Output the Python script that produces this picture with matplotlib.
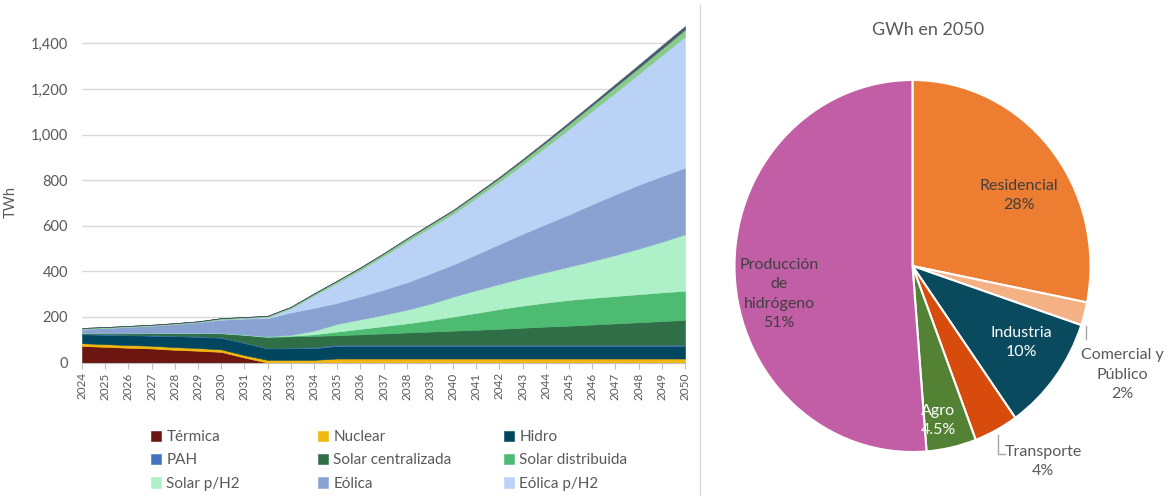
import matplotlib
matplotlib.use("Agg")
import matplotlib.pyplot as plt
from matplotlib.lines import Line2D
from matplotlib.ticker import FuncFormatter

plt.rcParams['font.family'] = ['Lato', 'DejaVu Sans']

# generation by source, TWh
years = list(range(2024, 2051))
termica = [73, 69, 65, 62, 56, 52, 47, 22] + [0] * 19
nuclear = [12, 12, 12, 12, 12, 12, 11, 11, 12, 12, 12] + [18] * 16
hidro = [39, 41, 43, 44, 48, 49, 51, 53, 50, 51, 51] + [55] * 16
pah = [2] * 9 + [3, 4] + [5] * 16
solar_cent = [2, 4, 6, 9, 12, 15, 17, 33, 48, 49, 50, 42, 46, 50, 54, 58, 62, 66,
              70, 75, 80, 84, 89, 94, 99, 104, 109]
solar_dist = [1, 1, 1, 1, 1, 1, 2, 2, 2, 3, 7, 16, 24, 32, 40, 50, 62, 74,
              87, 97, 105, 113, 117, 120, 123, 126, 128]
solar_h2 = [0, 0, 0, 0, 0, 0, 0, 0, 1, 4, 16, 34, 42, 50, 60, 72, 87, 100,
            110, 122, 134, 146, 162, 180, 200, 222, 248]
eolica = [19, 23, 28, 32, 38, 46, 58, 70, 80, 98, 100, 92, 100, 110, 120, 132, 141, 157,
          175, 193, 211, 229, 249, 266, 280, 288, 292]
eolica_h2 = [0, 0, 0, 0, 0, 0, 2, 3, 5, 18, 55, 88, 116, 147, 179, 202, 223, 248,
             274, 304, 338, 375, 410, 447, 486, 530, 575]
otros = [4, 4, 4, 4, 4, 4, 5, 4, 5, 6, 7, 9, 10, 11, 12, 13, 14, 15,
         16, 18, 20, 22, 24, 26, 27, 29, 31]
otros2 = [0] * 9 + [1, 2, 1, 2, 2, 2, 3, 3, 4, 5, 6, 7, 8, 9, 11, 13, 14, 15]

series = [termica, nuclear, hidro, pah, solar_cent, solar_dist, solar_h2, eolica, eolica_h2, otros, otros2]
names = ['Térmica', 'Nuclear', 'Hidro', 'PAH', 'Solar centralizada', 'Solar distribuida',
         'Solar p/H2', 'Eólica', 'Eólica p/H2']
colors = ['#6B1610', '#F2B80F', '#00465E', '#4472C4', '#2F6E47', '#4DBB72',
          '#AEF0C8', '#8AA2D2', '#BAD2F5', '#88CC8C', '#4A5A6E']

# demand 2050 pie
pie_vals = [28, 2, 10, 4, 4.5, 51]
pie_names = ['Residencial', 'Comercial y\nPúblico', 'Industria', 'Transporte', 'Agro',
             'Producción\nde\nhidrógeno']
pie_pcts = ['28%', '2%', '10%', '4%', '4.5%', '51%']
pie_colors = ['#ED7D31', '#F4B183', '#0A4A5E', '#D74B0D', '#548235', '#C25EA6']

grey = '#595959'
fig = plt.figure(figsize=(11.68, 5), dpi=100)

# ---- stacked area
ax = fig.add_axes([82 / 1168, 137.4 / 500, 603 / 1168, 342 / 500])
polys = ax.stackplot(years, *series, colors=colors, edgecolor='face', linewidth=0.4)
ax.set_xlim(2024, 2050)
ax.set_ylim(0, 1500)
ax.set_yticks(range(0, 1401, 200))
ax.yaxis.set_major_formatter(FuncFormatter(lambda v, p: f"{v:,.0f}"))
ax.set_xticks(years)
ax.set_xticklabels([str(y) for y in years], rotation=90)
ax.tick_params(axis='y', length=0, labelsize=10.5, labelcolor=grey, pad=10)
ax.tick_params(axis='x', length=4, color='#BFBFBF', labelsize=8.5, labelcolor=grey, pad=3)
ax.grid(axis='y', color='#D9D9D9', linewidth=1)
ax.set_axisbelow(True)
for s in ['top', 'right', 'left']:
    ax.spines[s].set_visible(False)
ax.spines['bottom'].set_color('#BFBFBF')
ax.set_ylabel('TWh', color=grey, fontsize=10.5)
ax.yaxis.set_label_coords(-0.106, 0.47)

# legend, row-wise in three columns
col_x = [151, 318, 504]
for c in range(3):
    idx = [c, c + 3, c + 6]
    fig.legend([polys[i] for i in idx], [names[i] for i in idx], loc='upper left',
               bbox_to_anchor=(col_x[c] / 1168, 1 - 430 / 500), frameon=False,
               fontsize=11, handlelength=0.65, handleheight=0.65, handletextpad=0.35,
               labelspacing=0.62, borderpad=0, borderaxespad=0, labelcolor=grey)

# separator
fig.add_artist(Line2D([700 / 1168] * 2, [0.01, 0.99], color='#D9D9D9', linewidth=1,
                      transform=fig.transFigure))

# ---- pie
pax = fig.add_axes([(912.5 - 178) / 1168, (500 - 266 - 186) / 500, 356 / 1168, 372 / 500])
pax.pie(pie_vals, colors=pie_colors, startangle=90, counterclock=False, radius=1,
        wedgeprops=dict(edgecolor='white', linewidth=1.5))
pax.set_aspect('auto')
pax.set_xlim(-1, 1)
pax.set_ylim(-1, 1)
pax.axis('off')
fig.text(928 / 1168, 1 - 30 / 500, 'GWh en 2050', ha='center', va='center',
         fontsize=13, color=grey)

lab_pos = [(0.60, 0.38), (1.18, -0.585), (0.61, -0.41), (0.735, -1.05), (0.145, -0.83), (-0.75, -0.15)]
lab_col = ['#3F3F3F', grey, 'white', grey, 'white', '#3F3F3F']
for n, p, (x, y), col in zip(pie_names, pie_pcts, lab_pos, lab_col):
    pax.text(x, y, n + '\n' + p, ha='center', va='center', fontsize=11.5, color=col,
             linespacing=1.5, clip_on=False)

pax.plot([0.972, 0.972], [-0.32, -0.39], color='#A6A6A6', linewidth=1, clip_on=False)
pax.plot([0.483, 0.483, 0.52], [-0.91, -1.01, -1.01], color='#A6A6A6', linewidth=1,
         clip_on=False)

fig.savefig('out.png', dpi=100)
